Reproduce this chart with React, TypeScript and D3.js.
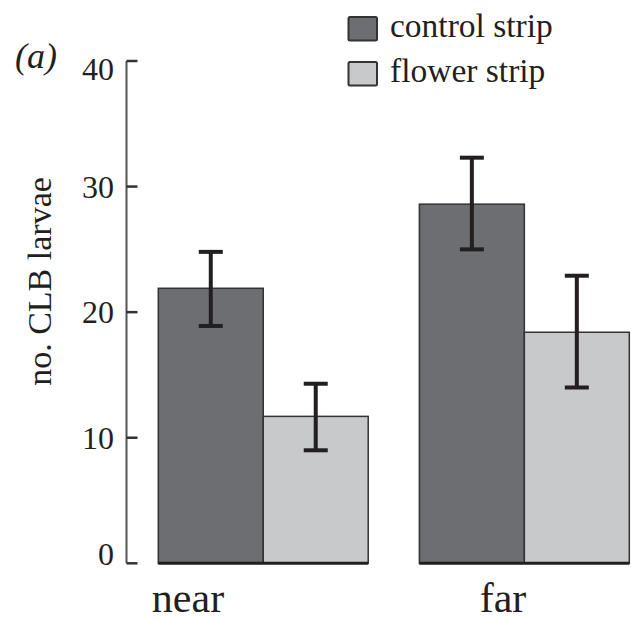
import React from "react";
import * as d3 from "d3";

// Larval counts per strip type, by distance class
const categories = ["near", "far"];
const seriesNames = ["control strip", "flower strip"];
const controlMeans = [21.9, 28.6];
const controlLow = [18.9, 25.0];
const controlHigh = [24.8, 32.3];
const flowerMeans = [11.7, 18.4];
const flowerLow = [9.0, 14.0];
const flowerHigh = [14.3, 22.9];
const yTicks = [0, 10, 20, 30, 40];

const W = 631;
const H = 621;
const FONT = "'Liberation Serif', 'Times New Roman', serif";
const INK = "#231f20";
const FILLS = ["#6d6e71", "#c8c9cb"];

export default function App() {
  const y = d3.scaleLinear().domain([0, 40]).range([563.3, 61]);
  const x0 = d3
    .scaleBand<string>()
    .domain(categories)
    .range([158.3, 629.3])
    .paddingInner(0.196)
    .paddingOuter(0);
  const x1 = d3
    .scaleBand<string>()
    .domain(seriesNames)
    .range([0, x0.bandwidth()]);
  const labelX = d3.scalePoint<string>().domain(categories).range([188, 503]);

  const series = [
    { name: seriesNames[0], means: controlMeans, lo: controlLow, hi: controlHigh },
    { name: seriesNames[1], means: flowerMeans, lo: flowerLow, hi: flowerHigh },
  ];

  const axisX = 126.5;
  const yTopPx = y(40);
  const yBotPx = y(0);
  const labelPos = (v: number) =>
    Math.max(yTopPx + 8, Math.min(yBotPx - 9, y(v)));
  const capW = 24;

  return (
    <svg
      width={W}
      height={H}
      style={{ position: "absolute", left: 0, top: 0, background: "#fff" }}
    >
      {/* panel tag */}
      <text x={15} y={68} fontFamily={FONT} fontStyle="italic" fontSize={36} fill={INK}>
        (a)
      </text>

      {/* y axis */}
      <line x1={axisX} x2={axisX} y1={yTopPx} y2={yBotPx} stroke="#555" strokeWidth={2} />
      {yTicks.map((t) => (
        <g key={t}>
          <line x1={axisX} x2={axisX + 11} y1={y(t)} y2={y(t)} stroke="#333" strokeWidth={2.5} />
          <text
            x={114}
            y={labelPos(t)}
            textAnchor="end"
            dominantBaseline="central"
            fontFamily={FONT}
            fontSize={32}
            fill={INK}
          >
            {t}
          </text>
        </g>
      ))}
      <text
        transform={`translate(51,281.5) rotate(-90)`}
        textAnchor="middle"
        fontFamily={FONT}
        fontSize={34}
        fill={INK}
      >
        no. CLB larvae
      </text>

      {/* bars */}
      {categories.map((c, ci) => (
        <g key={c} transform={`translate(${x0(c)},0)`}>
          {series.map((s, si) => (
            <rect
              key={s.name}
              x={x1(s.name)}
              y={y(s.means[ci])}
              width={x1.bandwidth()}
              height={y(0) - y(s.means[ci])}
              fill={FILLS[si]}
              stroke="#333"
              strokeWidth={1.5}
            />
          ))}
          <line
            x1={0}
            x2={x0.bandwidth()}
            y1={y(0)}
            y2={y(0)}
            stroke={INK}
            strokeWidth={3}
          />
          {series.map((s) => {
            const cx = (x1(s.name) as number) + x1.bandwidth() / 2;
            return (
              <g key={s.name + "-err"} stroke={INK} strokeWidth={4}>
                <line x1={cx} x2={cx} y1={y(s.lo[ci])} y2={y(s.hi[ci])} />
                <line x1={cx - capW / 2} x2={cx + capW / 2} y1={y(s.hi[ci])} y2={y(s.hi[ci])} />
                <line x1={cx - capW / 2} x2={cx + capW / 2} y1={y(s.lo[ci])} y2={y(s.lo[ci])} />
              </g>
            );
          })}
        </g>
      ))}

      {/* category labels */}
      {categories.map((c) => (
        <text
          key={c}
          x={labelX(c)}
          y={611.5}
          textAnchor="middle"
          fontFamily={FONT}
          fontSize={42}
          fill={INK}
        >
          {c}
        </text>
      ))}

      {/* legend */}
      {seriesNames.map((n, i) => (
        <g key={n} transform={`translate(348.5,${17 + i * 45})`}>
          <rect x={0} y={0} width={28.5} height={23.5} fill={FILLS[i]} stroke="#333" strokeWidth={2} rx={1.5} />
          <text x={41.5} y={19.7} fontFamily={FONT} fontSize={33.5} fill={INK}>
            {n}
          </text>
        </g>
      ))}
    </svg>
  );
}
